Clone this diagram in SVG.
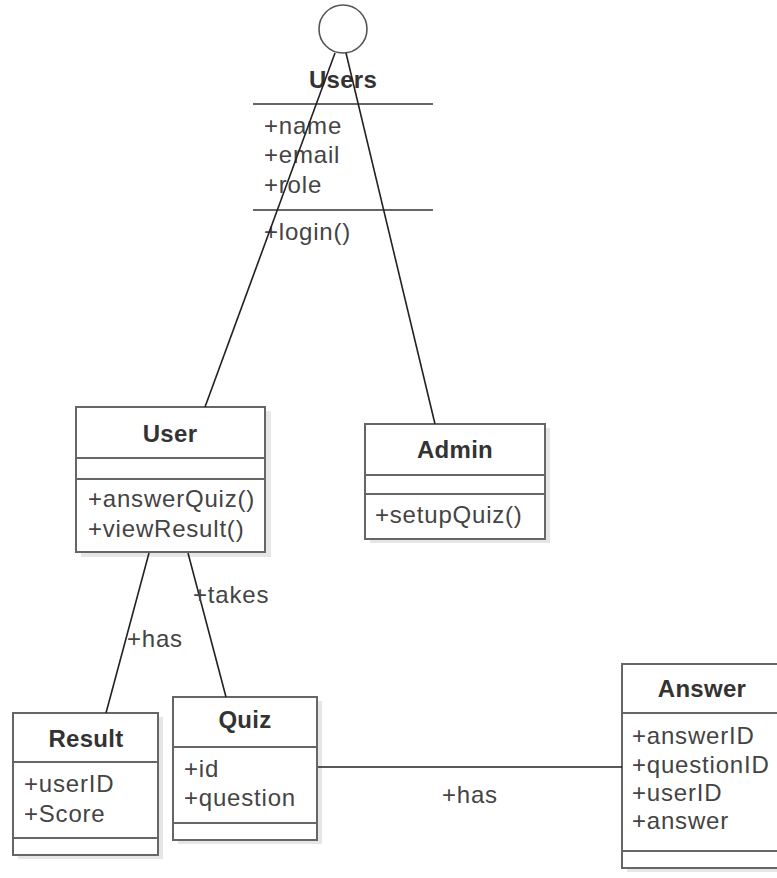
<svg xmlns="http://www.w3.org/2000/svg" width="777" height="878" viewBox="0 0 777 878">
  <style>
    .box { fill: #ffffff; stroke: #666666; stroke-width: 2; }
    .shadow { fill: #e6e6e6; }
    .div { stroke: #666666; stroke-width: 2; }
    .title { font-family: "Liberation Sans", Arial, sans-serif; font-size: 24px; font-weight: bold; fill: #333333; text-anchor: middle; letter-spacing: 0.3px; }
    .attr { font-family: "Liberation Sans", Arial, sans-serif; font-size: 24px; fill: #444444; letter-spacing: 0.8px; }
    .edge { stroke: #222222; stroke-width: 1.6; fill: none; }
    .label { font-family: "Liberation Sans", Arial, sans-serif; font-size: 24px; fill: #444444; letter-spacing: 0.8px; }
  </style>

  <rect width="777" height="878" fill="#ffffff"/>

  <!-- Users interface (lollipop notation) -->
  <g id="Users">
    <circle cx="343" cy="29" r="24" fill="#ffffff" stroke="#555555" stroke-width="1.6"/>
    <text class="title" x="343" y="88">Users</text>
    <line class="div" x1="253" y1="104" x2="433" y2="104"/>
    <text class="attr" x="264" y="134">+name</text>
    <text class="attr" x="264" y="163">+email</text>
    <text class="attr" x="264" y="193">+role</text>
    <line class="div" x1="253" y1="210" x2="433" y2="210"/>
    <text class="attr" x="264" y="240">+login()</text>
  </g>

  <g id="User">
    <rect class="shadow" x="81" y="411" width="190" height="146"/>
    <rect class="box" x="76" y="407" width="189" height="145"/>
    <text class="title" x="170" y="442">User</text>
    <line class="div" x1="76" y1="458" x2="265" y2="458"/>
    <line class="div" x1="76" y1="479" x2="265" y2="479"/>
    <text class="attr" x="88" y="507">+answerQuiz()</text>
    <text class="attr" x="88" y="537">+viewResult()</text>
  </g>

  <g id="Admin">
    <rect class="shadow" x="370" y="428" width="180" height="115"/>
    <rect class="box" x="365" y="424" width="180" height="115"/>
    <text class="title" x="455" y="458">Admin</text>
    <line class="div" x1="365" y1="475" x2="545" y2="475"/>
    <line class="div" x1="365" y1="494" x2="545" y2="494"/>
    <text class="attr" x="375" y="523">+setupQuiz()</text>
  </g>

  <g id="Result">
    <rect class="shadow" x="18" y="717" width="145" height="142"/>
    <rect class="box" x="13" y="713" width="145" height="142"/>
    <text class="title" x="86" y="747">Result</text>
    <line class="div" x1="13" y1="762" x2="158" y2="762"/>
    <text class="attr" x="24" y="792">+userID</text>
    <text class="attr" x="24" y="822">+Score</text>
    <line class="div" x1="13" y1="838" x2="158" y2="838"/>
  </g>

  <g id="Quiz">
    <rect class="shadow" x="178" y="701" width="144" height="143"/>
    <rect class="box" x="173" y="697" width="144" height="143"/>
    <text class="title" x="245" y="728">Quiz</text>
    <line class="div" x1="173" y1="747" x2="317" y2="747"/>
    <text class="attr" x="184" y="777">+id</text>
    <text class="attr" x="184" y="806">+question</text>
    <line class="div" x1="173" y1="823" x2="317" y2="823"/>
  </g>

  <g id="Answer">
    <rect class="shadow" x="627" y="668" width="160" height="204"/>
    <rect class="box" x="622" y="664" width="160" height="204"/>
    <text class="title" x="702" y="697">Answer</text>
    <line class="div" x1="622" y1="713" x2="782" y2="713"/>
    <text class="attr" x="632" y="744">+answerID</text>
    <text class="attr" x="632" y="773">+questionID</text>
    <text class="attr" x="632" y="801">+userID</text>
    <text class="attr" x="632" y="829">+answer</text>
    <line class="div" x1="622" y1="851" x2="782" y2="851"/>
  </g>

  <g id="connectors">
    <line class="edge" x1="335" y1="53" x2="205" y2="407"/>
    <line class="edge" x1="346" y1="53" x2="435" y2="424"/>
    <line class="edge" x1="149" y1="553" x2="106" y2="713"/>
    <line class="edge" x1="188" y1="553" x2="226" y2="697"/>
    <line class="edge" x1="318" y1="767" x2="622" y2="767"/>
    <text class="label" x="193" y="603">+takes</text>
    <text class="label" x="127" y="647">+has</text>
    <text class="label" x="442" y="803">+has</text>
  </g>
</svg>
